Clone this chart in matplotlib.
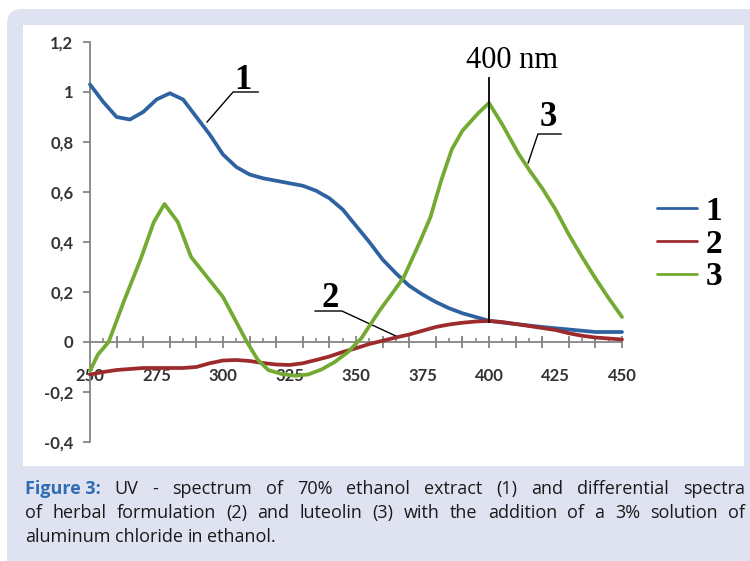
import matplotlib.pyplot as plt
from matplotlib.patches import FancyBboxPatch, Rectangle

# wavelengths (nm) and absorbance
wl_1 = [250, 255, 260, 265, 270, 275, 280, 285, 290, 295, 300, 305, 310, 315,
        320, 325, 330, 335, 340, 345, 350, 355, 360, 365, 370, 375, 380, 385,
        390, 395, 400, 405, 410, 415, 420, 425, 430, 435, 440, 445, 450]
abs_1 = [1.03, 0.96, 0.90, 0.89, 0.92, 0.97, 0.995, 0.97, 0.90, 0.83, 0.75,
         0.70, 0.67, 0.655, 0.645, 0.635, 0.625, 0.605, 0.575, 0.53, 0.465,
         0.40, 0.33, 0.275, 0.225, 0.19, 0.16, 0.135, 0.115, 0.10, 0.085,
         0.078, 0.072, 0.066, 0.06, 0.055, 0.05, 0.045, 0.04, 0.04, 0.04]

wl_2 = wl_1
abs_2 = [-0.13, -0.12, -0.112, -0.108, -0.104, -0.104, -0.104, -0.104, -0.10,
         -0.085, -0.074, -0.072, -0.076, -0.084, -0.09, -0.092, -0.085,
         -0.072, -0.058, -0.04, -0.025, -0.008, 0.005, 0.018, 0.03, 0.045,
         0.06, 0.07, 0.077, 0.082, 0.084, 0.08, 0.072, 0.064, 0.056, 0.048,
         0.035, 0.025, 0.018, 0.014, 0.01]

wl_3 = [250, 253, 257, 263, 269, 274, 278, 283, 288, 294, 300, 306, 309, 313,
        317, 322, 327, 332, 337, 342, 347, 352, 359, 364, 368, 374, 378, 382,
        386, 390, 396, 400, 405, 411, 415, 420, 425, 430, 435, 440, 445, 450]
abs_3 = [-0.115, -0.05, 0.0, 0.17, 0.33, 0.48, 0.552, 0.48, 0.34, 0.26, 0.18,
         0.06, 0.0, -0.07, -0.112, -0.128, -0.135, -0.13, -0.11, -0.08, -0.04,
         0.015, 0.128, 0.20, 0.26, 0.40, 0.50, 0.645, 0.77, 0.845, 0.916,
         0.956, 0.87, 0.755, 0.69, 0.615, 0.53, 0.43, 0.34, 0.255, 0.175,
         0.10]

series_names = ["1", "2", "3"]
colors = ["#2e62a1", "#9e2b2b", "#72aa32"]

x_ticks = [250, 275, 300, 325, 350, 375, 400, 425, 450]
y_ticks = [-0.4, -0.2, 0, 0.2, 0.4, 0.6, 0.8, 1, 1.2]
y_labels = ["-0,4", "-0,2", "0", "0,2", "0,4", "0,6", "0,8", "1", "1,2"]

W, H = 750, 561
fig = plt.figure(figsize=(W / 100, H / 100), dpi=100)
fig.patch.set_facecolor("white")


def fx(x):
    return x / W


def fy(y):
    return 1 - y / H


# light blue rounded frame and white plot panel
fig.add_artist(FancyBboxPatch((fx(7), fy(575)), fx(760), 566 / H,
                              boxstyle="round,pad=0,rounding_size=0.02",
                              mutation_aspect=W / H, transform=fig.transFigure,
                              facecolor="#dfe3f1", edgecolor="none", zorder=-2))
fig.add_artist(Rectangle((fx(23), fy(466)), fx(721), 441 / H,
                         transform=fig.transFigure, facecolor="white",
                         edgecolor="none", zorder=-1))

ax = fig.add_axes([fx(90), fy(442), 532 / W, 400 / H])
ax.set_facecolor("none")
ax.set_xlim(250, 450)
ax.set_ylim(-0.4, 1.2)

for wl, a, c, n in zip([wl_1, wl_2, wl_3], [abs_1, abs_2, abs_3], colors, series_names):
    ax.plot(wl, a, color=c, lw=2.7, label=n, solid_capstyle="round",
            solid_joinstyle="round", clip_on=False, zorder=3)

axis_col = "#858585"
tick_font = dict(family="Lato", weight="bold", size=12)
for s in ["top", "right"]:
    ax.spines[s].set_visible(False)
ax.spines["bottom"].set_position(("data", 0))
ax.spines["bottom"].set_color(axis_col)
ax.spines["left"].set_color(axis_col)
ax.spines["left"].set_linewidth(1.3)
ax.spines["bottom"].set_linewidth(1.3)

ax.set_yticks(y_ticks)
ax.set_yticklabels(y_labels, **tick_font, color="#333333")
ax.tick_params(axis="y", length=5, width=1.3, color=axis_col, pad=7)

ax.set_xticks(x_ticks)
ax.set_xticklabels([str(v) for v in x_ticks], **tick_font, color="#333333")
ax.set_xticks(range(255, 451, 5), minor=True)
ax.tick_params(axis="x", which="major", length=0, pad=19)
ax.tick_params(axis="x", which="minor", direction="in", length=3, width=1.2,
               color=axis_col)

# crossing ticks every 10 nm along the zero line
sec = ax.secondary_xaxis(0.25)
sec.set_xticks(range(260, 451, 10))
sec.set_xticklabels([])
sec.tick_params(direction="inout", length=9, width=1.3, color=axis_col)
sec.spines["bottom"].set_visible(False)

# 400 nm marker
ax.plot([400, 400], [0.08, 1.056], color="black", lw=1.3, zorder=4)
ax.text(391.5, 1.096, "400 nm", family="Liberation Serif", size=22,
        ha="left", va="baseline")

# curve labels with leader lines
lab_font = dict(family="Liberation Serif", weight="bold", size=25,
                ha="center", va="baseline")
ax.plot([294.0, 303.8, 313.2], [0.88, 1.0, 1.0], color="black", lw=1)
ax.text(307.5, 1.012, "1", **lab_font)
ax.plot([414.7, 418.4, 427.1], [0.716, 0.832, 0.832], color="black", lw=1)
ax.text(422.2, 0.862, "3", **lab_font)
ax.plot([365.8, 344.7, 334.6], [0.02, 0.124, 0.124], color="black", lw=1)
ax.text(340.2, 0.14, "2", **lab_font)

leg = ax.legend(loc="upper left", bbox_to_anchor=(fx(657), fy(196)),
                bbox_transform=fig.transFigure, frameon=False, borderpad=0,
                borderaxespad=0, handlelength=1.2, handletextpad=0.25,
                labelspacing=0.05,
                prop=dict(family="Liberation Serif", weight="bold", size=24))
for line in leg.get_lines():
    line.set_linewidth(2.0)

# caption, justified like the journal layout
cap_lines = [
    "UV - spectrum of 70% ethanol extract (1) and differential spectra",
    "of herbal formulation (2) and luteolin (3) with the addition of a 3% solution of",
    "aluminum chloride in ethanol.",
]
cap_font = dict(family="Open Sans", size=13)
renderer = fig.canvas.get_renderer()
left, right = 25, 745
baselines = [494, 518, 542]

for i, line in enumerate(cap_lines):
    words = line.split(" ")
    items = []
    if i == 0:
        items.append(("Figure 3:", dict(weight="bold", color="#2f6db5")))
    for w in words:
        items.append((w, dict(color="#1a1a1a")))
    texts = []
    widths = []
    for w, st in items:
        t = fig.text(0, fy(baselines[i]), w, va="baseline", ha="left",
                     **cap_font, **st)
        texts.append(t)
        widths.append(t.get_window_extent(renderer).width)
    if i < len(cap_lines) - 1:
        gap = (right - left - sum(widths)) / (len(items) - 1)
    else:
        gap = 4.5
    x = left
    for t, wd in zip(texts, widths):
        t.set_x(fx(x))
        x += wd + gap

fig.savefig("out.png", dpi=100)
